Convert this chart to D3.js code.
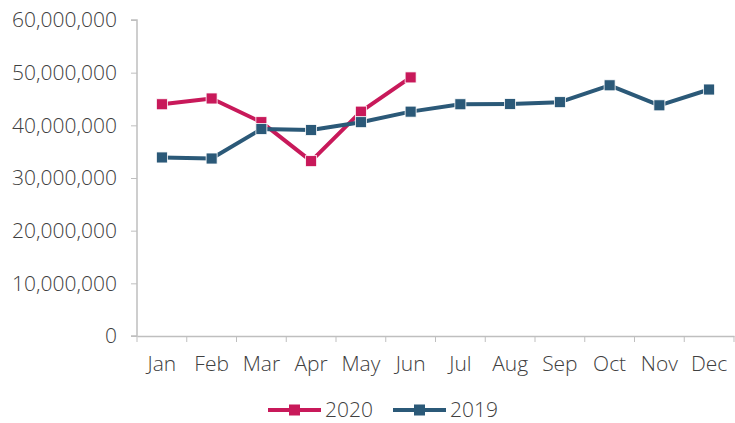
<!DOCTYPE html>
<html>
<head>
<meta charset="utf-8">
<script src="https://cdn.jsdelivr.net/npm/d3@7"></script>
<style>
  body { margin: 0; background: #fff; }
  text { font-family: "Open Sans", "DejaVu Sans", sans-serif; font-weight: 300; fill: #404040; }
</style>
</head>
<body>
<svg id="chart" width="735" height="423"></svg>
<script>
var months = ["Jan", "Feb", "Mar", "Apr", "May", "Jun", "Jul", "Aug", "Sep", "Oct", "Nov", "Dec"];
var values2020 = [44000000, 45100000, 40600000, 33200000, 42600000, 49100000];
var values2019 = [33900000, 33700000, 39300000, 39100000, 40600000, 42600000, 44000000, 44050000, 44400000, 47600000, 43800000, 46800000];
var yTicks = [0, 10000000, 20000000, 30000000, 40000000, 50000000, 60000000];

var series = [
  { name: "2020", values: values2020, color: "#C8195A" },
  { name: "2019", values: values2019, color: "#2B5978" }
];

var svg = d3.select("#chart");
var margin = { top: 20, right: 1, bottom: 87, left: 137 };
var width = 735 - margin.left - margin.right,
    height = 423 - margin.top - margin.bottom;

var x = d3.scaleBand().domain(months).range([0, width]);
var y = d3.scaleLinear().domain([0, 60000000]).range([height, 0]);

var g = svg.append("g").attr("transform", "translate(" + margin.left + "," + margin.top + ")");

// y axis
var yAxis = g.append("g")
  .call(d3.axisLeft(y).tickValues(yTicks).tickSize(6).tickPadding(14).tickFormat(d3.format(",")));
yAxis.selectAll("text").style("font-size", "21px");

// x axis, ticks sit between the categories
var xAxis = g.append("g")
  .attr("transform", "translate(0," + height + ")")
  .call(d3.axisBottom(x).tickSize(0).tickPadding(20));
xAxis.selectAll("text").style("font-size", "21px");
xAxis.selectAll(".sep")
  .data(months.concat(["end"]))
  .enter().append("line")
  .attr("class", "sep")
  .attr("x1", function(d, i) { return i * x.step(); })
  .attr("x2", function(d, i) { return i * x.step(); })
  .attr("y1", 0).attr("y2", 6)
  .attr("stroke", "#BFBFBF");

svg.selectAll(".domain").attr("stroke", "#BFBFBF").attr("stroke-width", 1.5);
yAxis.selectAll(".tick line").attr("stroke", "#BFBFBF");
yAxis.select(".domain").attr("d", "M-6," + height + "H0V0H-6");

var line = d3.line()
  .x(function(d, i) { return x(months[i]) + x.bandwidth() / 2; })
  .y(function(d) { return y(d); });

series.forEach(function(s) {
  var sg = g.append("g");
  sg.append("path")
    .datum(s.values)
    .attr("d", line)
    .attr("fill", "none")
    .attr("stroke", s.color)
    .attr("stroke-width", 4)
    .attr("stroke-linejoin", "round");
  sg.selectAll("rect")
    .data(s.values)
    .enter().append("rect")
    .attr("x", function(d, i) { return x(months[i]) + x.bandwidth() / 2 - 5.5; })
    .attr("y", function(d) { return y(d) - 5.5; })
    .attr("width", 11).attr("height", 11)
    .attr("fill", s.color)
    .attr("stroke", "#fff")
    .attr("stroke-width", 0.8);
});

// legend
var legend = svg.append("g").attr("transform", "translate(268,410)");
var lx = [0, 125];
series.forEach(function(s, i) {
  var lg = legend.append("g").attr("transform", "translate(" + lx[i] + ",0)");
  lg.append("line").attr("x1", 0).attr("x2", 53).attr("y1", 0).attr("y2", 0)
    .attr("stroke", s.color).attr("stroke-width", 4);
  lg.append("rect").attr("x", 21).attr("y", -5.5).attr("width", 11).attr("height", 11)
    .attr("fill", s.color);
  lg.append("text").attr("x", 57).attr("y", 7).style("font-size", "21px").text(s.name);
});
</script>
</body>
</html>
